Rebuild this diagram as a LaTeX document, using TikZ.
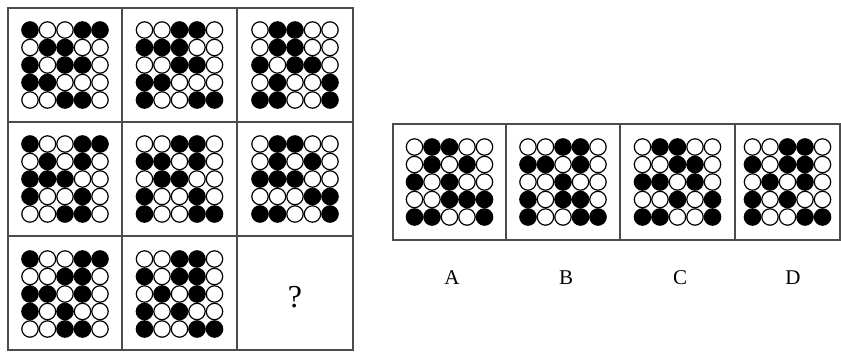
\documentclass[tikz,border=0pt]{standalone}
\usepackage{fontspec}
\setmainfont{Liberation Serif}
\begin{document}
\begin{tikzpicture}[x=1pt,y=-1pt,
  frame/.style={draw=black!70,line width=1.3pt},
  dotb/.style={draw=black,line width=1.2pt}]
\useasboundingbox (0,0) rectangle (841,351);
\newcommand\dotgrid[3]{%
  \foreach \v [count=\k from 0] in {#3}{%
    \pgfmathtruncatemacro\rr{int(\k/5)}%
    \pgfmathtruncatemacro\cc{mod(\k,5)}%
    \ifnum\v=1 \def\fc{black}\else\def\fc{white}\fi
    \path[dotb,fill=\fc] ({#1+\cc*17.5-35},{#2+\rr*17.5-35}) circle (8.2);
  }}
% left 3x3 frame
\draw[frame] (8,8) rectangle (353,350);
\draw[frame] (122,8) -- (122,350) (237,8) -- (237,350);
\draw[frame] (8,122) -- (353,122) (8,236) -- (353,236);
% row 1
\dotgrid{65}{65}{1,0,0,1,1, 0,1,1,0,0, 1,0,1,1,0, 1,1,0,0,0, 0,0,1,1,0}
\dotgrid{179.5}{65}{0,0,1,1,0, 1,1,1,0,0, 0,0,1,1,0, 1,1,0,0,0, 1,0,0,1,1}
\dotgrid{295}{65}{0,1,1,0,0, 0,1,1,0,0, 1,0,1,1,0, 0,1,0,0,1, 1,1,0,0,1}
% row 2
\dotgrid{65}{179}{1,0,0,1,1, 0,1,0,1,0, 1,1,1,0,0, 1,0,0,1,0, 0,0,1,1,0}
\dotgrid{179.5}{179}{0,0,1,1,0, 1,1,0,1,0, 0,1,1,0,0, 1,0,0,1,0, 1,0,0,1,1}
\dotgrid{295}{179}{0,1,1,0,0, 0,1,0,1,0, 1,1,1,0,0, 0,0,0,1,1, 1,1,0,0,1}
% row 3
\dotgrid{65}{294}{1,0,0,1,1, 0,0,1,1,0, 1,1,0,1,0, 1,0,1,0,0, 0,0,1,1,0}
\dotgrid{179.5}{294}{0,0,1,1,0, 1,0,1,1,0, 0,1,0,1,0, 1,0,1,0,0, 1,0,0,1,1}
\node[font=\fontsize{32}{36}\selectfont] (q) at (295,297) {?};
% options frame
\draw[frame] (393,124) rectangle (840,240);
\draw[frame] (506,124) -- (506,240) (620,124) -- (620,240) (735,124) -- (735,240);
\dotgrid{449.5}{182}{0,1,1,0,0, 0,1,0,1,0, 1,0,1,0,0, 0,0,1,1,1, 1,1,0,0,1}
\dotgrid{563}{182}{0,0,1,1,0, 1,1,0,1,0, 0,0,1,0,0, 1,0,1,1,0, 1,0,0,1,1}
\dotgrid{677.5}{182}{0,1,1,0,0, 0,0,1,1,0, 1,1,0,1,0, 0,0,1,0,1, 1,1,0,0,1}
\dotgrid{787.5}{182}{0,0,1,1,0, 1,0,1,1,0, 0,1,0,1,0, 1,0,1,0,0, 1,0,0,1,1}
% labels
\tikzset{lbl/.style={font=\fontsize{21}{24}\selectfont}}
\node[lbl] (la) at (452,278) {A};
\node[lbl] (lb) at (566,278) {B};
\node[lbl] (lc) at (680,278) {C};
\node[lbl] (ld) at (793,278) {D};
\end{tikzpicture}
\end{document}
